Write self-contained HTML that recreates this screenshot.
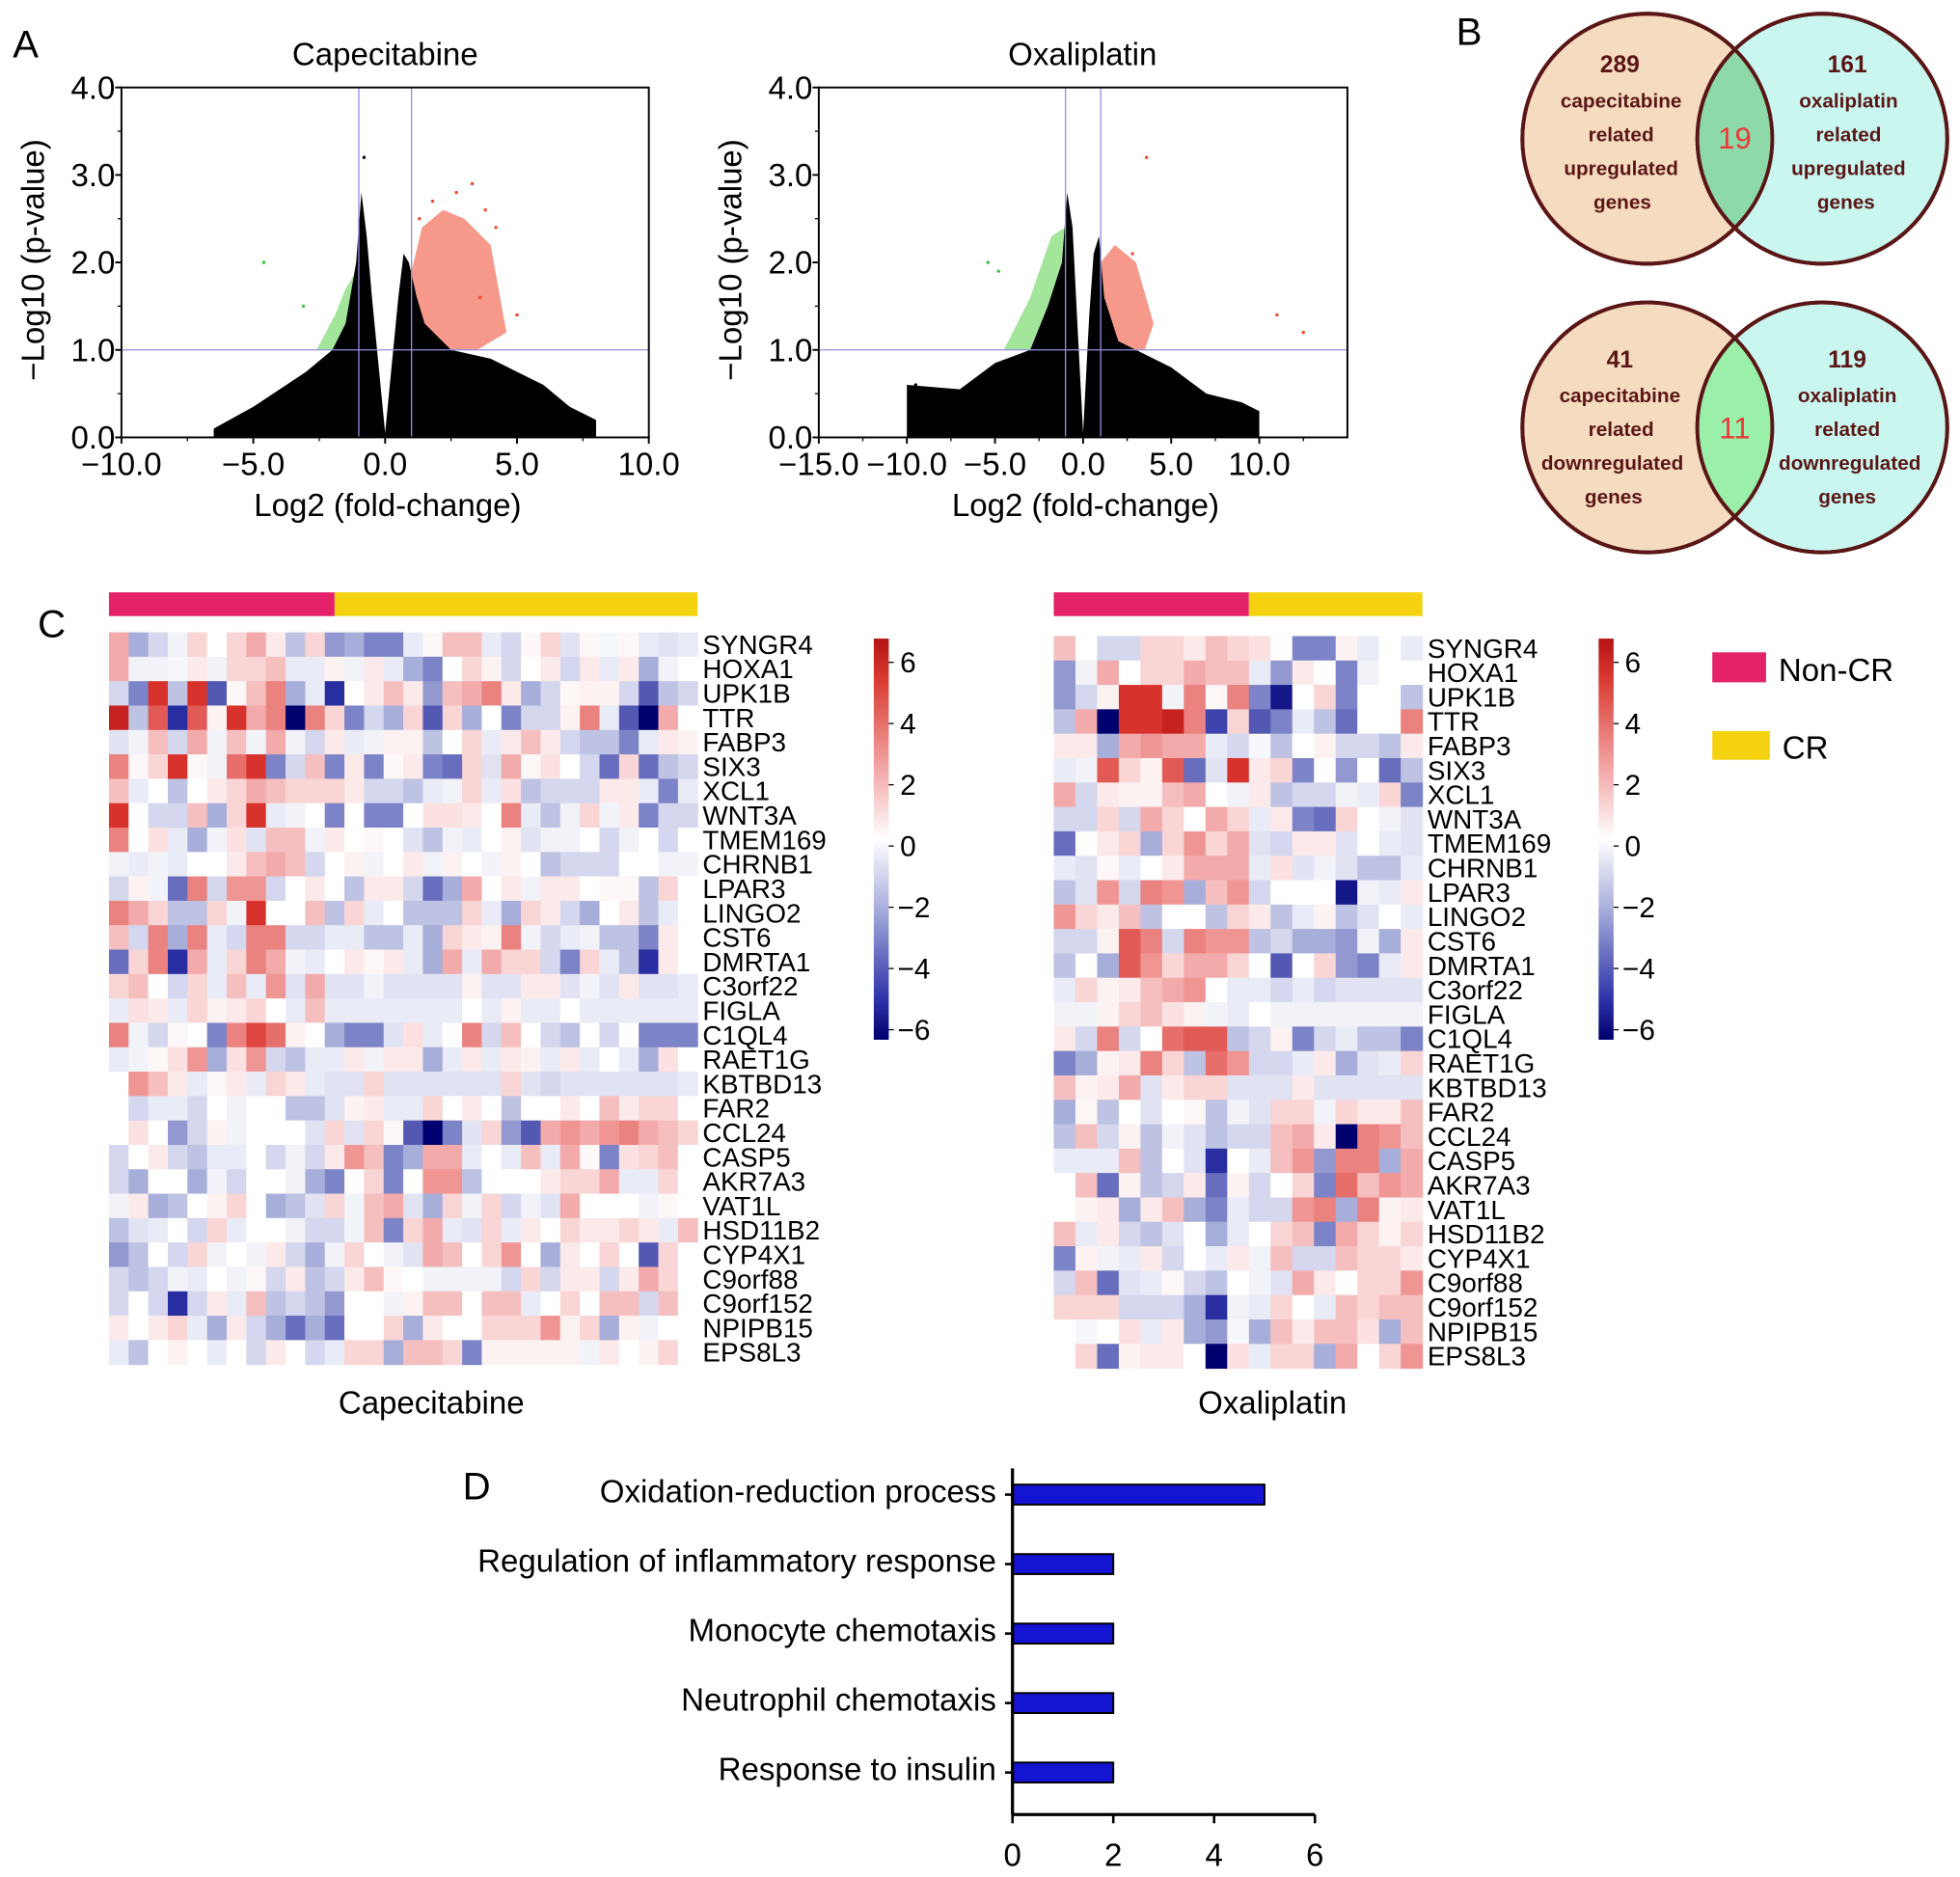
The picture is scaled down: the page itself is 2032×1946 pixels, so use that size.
<!DOCTYPE html>
<html><head><meta charset="utf-8"><style>
html,body{margin:0;padding:0;background:#fff}
svg{display:block;font-family:"Liberation Sans",Arial,sans-serif}
</style></head><body>
<svg id="fig" xmlns="http://www.w3.org/2000/svg" width="2032" height="1946" viewBox="0 0 1568 1502">
<rect x="0" y="0" width="1568" height="1502" fill="#fff"/>
<g id="gA"></g>
<g id="gB">
 <text x="10" y="46" font-size="31">A</text>
 <text x="1165" y="36" font-size="31">B</text>
 <circle cx="1318" cy="111" r="100" fill="#f5dcc0" stroke="#5a1616" stroke-width="3"/>
 <circle cx="1458" cy="111" r="100" fill="#c9f7f0" stroke="#5a1616" stroke-width="3"/>
 <path d="M1388,40 A100,100 0 0 1 1388,182 A100,100 0 0 1 1388,40 Z" fill="#8ed9a8"/>
 <circle cx="1318" cy="111" r="100" fill="none" stroke="#5a1616" stroke-width="3"/>
 <circle cx="1458" cy="111" r="100" fill="none" stroke="#5a1616" stroke-width="3"/>
 <circle cx="1318" cy="342" r="100" fill="#f5dcc0" stroke="#5a1616" stroke-width="3"/>
 <circle cx="1458" cy="342" r="100" fill="#c9f7f0" stroke="#5a1616" stroke-width="3"/>
 <path d="M1388,271 A100,100 0 0 1 1388,413 A100,100 0 0 1 1388,271 Z" fill="#9af0a8"/>
 <circle cx="1318" cy="342" r="100" fill="none" stroke="#5a1616" stroke-width="3"/>
 <circle cx="1458" cy="342" r="100" fill="none" stroke="#5a1616" stroke-width="3"/>
 <g font-weight="bold" fill="#5a1616" font-size="16" text-anchor="middle">
  <text x="1296" y="58" font-size="19">289</text><text x="1297" y="86">capecitabine</text><text x="1297" y="113">related</text><text x="1297" y="140">upregulated</text><text x="1298" y="167">genes</text>
  <text x="1478" y="58" font-size="19">161</text><text x="1479" y="86">oxaliplatin</text><text x="1479" y="113">related</text><text x="1479" y="140">upregulated</text><text x="1477" y="167">genes</text>
  <text x="1296" y="294" font-size="19">41</text><text x="1296" y="322">capecitabine</text><text x="1297" y="349">related</text><text x="1290" y="376">downregulated</text><text x="1291" y="403">genes</text>
  <text x="1478" y="294" font-size="19">119</text><text x="1478" y="322">oxaliplatin</text><text x="1478" y="349">related</text><text x="1480" y="376">downregulated</text><text x="1478" y="403">genes</text>
 </g>
 <text x="1388" y="119" font-size="24" fill="#e83a3a" text-anchor="middle">19</text>
 <text x="1388" y="351" font-size="24" fill="#e83a3a" text-anchor="middle">11</text>
</g>
<g id="gC">
 <text x="30" y="510" font-size="31">C</text>
 <rect x="1370" y="522" width="43" height="24" fill="#e4226a"/>
 <text x="1423" y="545" font-size="25.5">Non-CR</text>
 <rect x="1370" y="585" width="46" height="23" fill="#f5d20f"/>
 <text x="1426" y="607" font-size="25.5">CR</text>
 <text x="345" y="1131" font-size="25.5" text-anchor="middle">Capecitabine</text>
 <text x="1018" y="1131" font-size="25.5" text-anchor="middle">Oxaliplatin</text>
 <defs><linearGradient id="cbar" x1="0" y1="0" x2="0" y2="1">
  <stop offset="0" stop-color="#b41414"/><stop offset="0.1" stop-color="#d83a30"/><stop offset="0.33" stop-color="#f3a9a9"/><stop offset="0.5" stop-color="#ffffff"/><stop offset="0.67" stop-color="#aab0dc"/><stop offset="0.9" stop-color="#2c32a8"/><stop offset="1" stop-color="#00006e"/>
 </linearGradient></defs>
</g>
<g id="gD">
 <text x="370" y="1200" font-size="31">D</text>
</g>
</svg>
<script>
// ---------- Panel A data ----------
const capEnvX = [-6.5,-5,-4,-3,-2,-1.5,-1.1,-0.9,-0.7,-0.5,0,0.5,0.7,0.9,1.2,1.5,2.5,4,5,6,7,8];
const capEnvY = [0.1,0.35,0.55,0.75,1.0,1.3,2.0,2.8,2.3,1.6,0.05,1.6,2.1,2.0,1.6,1.3,1.0,0.9,0.75,0.6,0.35,0.2];
const capGreenX = [-2.6,-1.9,-1.5,-1.1,-1.0,-1.0,-1.3,-2.0];
const capGreenY = [1.0,1.4,1.7,1.9,1.6,1.0,1.0,1.0];
const capRedX = [1.0,1.0,1.4,2.2,3.0,4.0,4.6,3.5,2.0];
const capRedY = [1.0,1.9,2.4,2.6,2.5,2.2,1.2,1.0,1.0];
const capPtX = [3.3,3.8,4.2,2.7,3.6,1.8,5.0,-4.6,-3.1,-0.8,1.3];
const capPtY = [2.9,2.6,2.4,2.8,1.6,2.7,1.4,2.0,1.5,3.2,2.5];
const capPtC = ['r','r','r','r','r','r','r','g','g','k','r'];
const oxaEnvX = [-10,-7,-5,-3,-2,-1.2,-0.9,-0.6,-0.35,0,0.35,0.6,0.9,1.2,2,3,5,7,9,10];
const oxaEnvY = [0.6,0.55,0.85,1.0,1.5,2.0,2.8,2.4,1.4,0.05,1.4,2.1,2.3,1.6,1.1,1.0,0.8,0.5,0.4,0.3];
const oxaGreenX = [-4.5,-3.0,-1.8,-1.0,-1.0,-4.0];
const oxaGreenY = [1.0,1.6,2.3,2.4,1.0,1.0];
const oxaRedX = [1.0,1.0,1.8,3.0,4.0,3.5,1.5];
const oxaRedY = [1.0,2.0,2.2,2.0,1.3,1.0,1.0];
const oxaPtX = [3.6,-5.4,-4.8,11,12.5,-9.5,2.8];
const oxaPtY = [3.2,2.0,1.9,1.4,1.2,0.6,2.1];
const oxaPtC = ['r','g','g','r','r','k','r'];
const yTicks = [0,1,2,3,4];
const yTickLabels = ['0.0','1.0','2.0','3.0','4.0'];
const capXTicks = [-10,-5,0,5,10];
const capXTickLabels = ['\u221210.0','\u22125.0','0.0','5.0','10.0'];
const oxaXTicks = [-15,-10,-5,0,5,10];
const oxaXTickLabels = ['\u221215.0','\u221210.0','\u22125.0','0.0','5.0','10.0'];

// ---------- Panel C data ----------
const genes = ['SYNGR4','HOXA1','UPK1B','TTR','FABP3','SIX3','XCL1','WNT3A','TMEM169','CHRNB1','LPAR3','LINGO2','CST6','DMRTA1','C3orf22','FIGLA','C1QL4','RAET1G','KBTBD13','FAR2','CCL24','CASP5','AKR7A3','VAT1L','HSD11B2','CYP4X1','C9orf88','C9orf152','NPIPB15','EPS8L3'];
const capValues = [
[2,-2,-1,-0.3,1,0,1,2,0.5,-1.5,1,-2.5,-2,-3,-3,-0.5,0.2,1.5,1.5,-0.5,-1,0.2,1,-0.7,0.2,-0.2,0.2,-0.5,-0.7,-0.5],
[2,-0.3,-0.3,-0.2,0.5,-0.3,1,1,1.5,-0.5,-0.5,0.3,-0.3,0.5,-0.5,-2,-3,0,1,0.3,-1,0,0.5,-1,0.5,-0.5,0.5,-2,-0.3,0],
[-1,-3,5,-1.5,5,-4,0.2,1.5,3,-2,-0.5,-5,0,0.5,1.5,0.5,-2.5,1.5,2,3,0.5,-2,-1,0.2,0.3,0.3,-1,-4,-1.5,-1],
[5.5,-1.5,4,-5,4,0.3,5,2,3,-6,3,1,-3,-1,-2,1,-4,1,-2,0,-3,-1,-1,0.3,3,-0.5,-4,-6,2,0],
[-0.7,-0.3,1.5,-1,2,-0.3,1.5,-0.3,2,-0.3,-1,0.5,-0.5,-0.3,0.3,0.3,-1.5,0,1,-0.5,0.5,1.5,0.5,-1,-1.5,-1.5,-3,-0.5,0.5,0.3],
[3,0.2,1,5,0.2,-0.3,3.5,5,-3,-1,1.5,-3,0.5,-3,0.2,0.5,-3,-3.5,1,-0.7,2,0.2,0.7,0,-1,-3.5,1,-3.5,-1.5,-1],
[1.5,-0.5,0,-1.5,0,0.5,1,2,1.5,1,1,1,0.5,-1,-1,-1.5,-0.5,-0.3,1,-0.5,0.7,-1.5,-1,-1,-1,0.5,0.5,-0.5,-3,-0.5],
[5,0,-1,-1,1.5,-2,1,5,-0.5,-0.3,0,-3,0,-3,-3,0,0.7,0.7,0.5,0,3,-0.5,-1.5,-0.3,1,-0.3,0.5,-3,-1,-1],
[3,0,0.7,-0.5,-2,-0.3,0.7,-0.7,1.5,1.5,-0.3,0.5,0,0.2,0,-0.7,-1.5,-0.3,-0.5,0,0.3,-0.7,-0.3,-0.3,0,-1,-0.3,0,-1,0],
[-0.3,-0.5,-0.3,-0.5,0,0,0.5,1.5,2,1.5,-1,0,0.3,-0.3,0,0.5,-0.3,0.3,0,-0.3,0.3,0,-1.5,-1,-1,-1,0,0,-0.3,-0.3],
[-1,0.3,-0.3,-3.5,3,-1,2.5,2.5,-1,0,0.5,0,-1.5,0.5,0.5,-1,-3.5,-2,2,0,0.5,-0.3,0.5,0.5,0,0.2,0.2,-1.5,1,0],
[3,2,1,-1.5,-1.5,1,-0.3,5,0,0,1.5,-1.5,1,-0.5,0,-1.5,-1.5,-1.5,1,-0.5,-2,1,0.5,-1,-2,0,0.5,-1.5,-0.5,0],
[1.5,-1,3,-2,3,-0.5,-1,3,3,-1,-1,-0.5,-0.5,-1.5,-1.5,-0.5,-2,1,0.5,0.3,3,-0.3,-1,-0.5,-0.3,-1.5,-1.5,-3,0.5,0],
[-3.5,1,3,-5,2,-0.5,1,3,2,-0.3,-0.5,0,0.5,0.2,0.5,-0.5,-2,2,-0.5,2,1,1,-1,-3,1,-0.5,-1.5,-5,0.5,0],
[1,1.5,0,-1,1,-0.5,1.5,-0.5,2.5,-0.7,2,-0.7,-0.7,-0.3,-0.7,-0.7,-0.7,-0.7,0.3,-0.7,-0.7,0.5,0.5,-0.7,-0.3,-0.7,0.5,-0.7,-0.7,-0.5],
[-0.5,0.7,0.5,-0.5,1,0.3,0.5,1,0,-0.5,1.5,-0.5,-0.5,-0.5,-0.5,-0.5,-0.5,-0.5,0,-0.5,0.3,-0.5,-0.5,0,-0.5,-0.5,-0.5,-0.5,-0.5,-0.5],
[3,-0.3,-1,0.2,0,-3,3,4.5,3.5,0.3,0,-2,-3,-3,-0.7,0.7,-0.5,0,3,-1,1.5,0,-1,-1.5,0,-1,0,-3,-3,-3],
[-0.5,-0.3,0.2,0.7,2.5,-2,0.7,2.5,-1,-1.5,-0.5,-0.5,0.5,-0.3,0.5,0.5,-2,-0.5,0.5,-0.5,0.5,0.3,-0.5,0.5,-0.5,0,-0.5,-2,0.7,0],
[0,2.5,1.5,0.5,-0.5,0.2,0.5,-0.5,1,0.5,-0.5,-0.7,-0.7,1,-0.7,-0.7,-0.7,-0.7,-0.7,-0.7,1,-0.7,-1,-0.7,-0.7,-0.7,-0.7,-0.7,-0.7,-0.5],
[0,-1,-0.5,-0.5,-1,0,-0.3,0,0,-1.5,-1.5,-0.7,0.3,0.5,-0.5,-0.5,1,0,0.5,0,-1.5,0,0,0.5,0,1.5,0.5,1,1,0],
[0,0.7,0,-2.5,-1,0.3,-0.3,0,0,0,-0.7,1,-0.7,1,0.2,-4,-6,-3,-0.7,1,-2.5,-4,2,2.5,2,2.5,3,2,1.5,1],
[-1,0,0.5,-1,-1.5,-0.5,-0.5,0,-1,-0.3,-1,0.5,2.5,1.5,-3,-2,2,2,-0.5,0,-0.5,1.5,-0.5,2,0.2,-3,0.7,1,1.5,0],
[-1,-2,0,0,-2,-0.3,-1,0,0,-0.3,-2,-3,0,1,-3,0,2.5,2.5,-1.5,0,0,0,0.5,1,1,2,-0.5,-0.5,1,0],
[-0.3,0.5,-2,-1.5,0,0.3,1,0,-2,-1.5,-0.7,1,-0.3,1.5,2,-0.7,-2,1,-0.3,1,-1,-0.3,-0.7,2,0,0,0,-0.3,0.2,0],
[-1.5,-0.7,-0.5,0,-1,1,-0.5,0,0,-0.3,-1,-1,-0.3,1.5,-3,1,2,-0.5,-0.7,1,-0.5,0.5,0,1,0.5,0.5,1,0.5,-0.5,1.5],
[-2.5,-1.5,0,-1,1,-0.3,0,-0.3,0.5,-1,-2,-0.3,1,0,-0.3,-0.7,2,1.5,0,1,2.5,0,-2,0.5,0,1,0,-4,1,0],
[-1,-1.5,-1,-0.3,-0.5,0,-0.3,0.2,-1,0.5,-1.5,-1,0.5,1.5,0.2,0,-0.3,-0.3,-0.3,-0.3,-1,1,-1,0.5,0.5,-1,0.5,2,1,0],
[-1,0,-1,-5,-1,0.5,-0.5,1.5,-1.5,-1,-1.5,-2.5,0,0,-0.3,0.3,1.5,1.5,0,1.5,1.5,-0.5,0,1,0,1.5,1.5,-1,1.5,0],
[0.5,0,0.5,1,-0.5,-2,0.5,-1,-2,-3.5,-2,-3.5,0,0,1,-2,0.5,0,0,1,1,1,2.5,0.3,1,-2,0.3,-0.3,0,0],
[-0.5,-1.5,0,0.3,0,-0.5,0,-1,0.5,0,-1,-0.5,1,1,-2,1.5,1.5,1,-3,0.3,0.3,0.3,0.3,0.3,-0.3,0.5,0,0.3,1,0]
];
const oxaValues = [
[1.5,0,-1,-1,1,1,0.5,1.5,1,0.7,0,-3,-3,0.3,-0.5,0,-0.5],
[-2.5,-0.3,2,0,1,1,2,1.5,1.5,-0.5,-2.5,0.5,0,-3,-0.3,0,0],
[-2.5,-1,0.3,5,5,-0.3,3,0.2,3,-3,-5.5,0,1,-3,0,0,-1.5],
[-1.5,2,-6,5,5,5.5,3,-4.5,1,-4,-3,-0.5,-1.5,-3.5,0,0,3],
[0.5,0.5,-2,2,2.5,2,2,-0.5,-1,-0.2,-1.5,0,0.3,-1,-1,-1.5,0.5],
[-0.5,-0.3,4,1,0.3,4,-3.5,-0.7,5,0.5,1,-3,0,-2.5,0,-3.5,-1.5],
[2,-1,0.5,0.3,0.3,1.5,2,0,-0.3,0.5,-1.5,-1,-1,-0.3,-0.5,1,-3],
[-1,-1,1,-1,2,1,0,2,1,-0.5,0.5,-3,-3.5,1,0,-0.3,-0.7],
[-3.5,0,0.5,1,-2,1,2.5,1,2,-0.7,-1,0.5,0.5,-0.7,0,-0.5,-0.7],
[-0.5,-0.7,0.2,-0.5,0,0.5,2,2,2,-0.5,0.7,-0.7,-0.3,-0.7,-1.5,-1.5,-0.5],
[-1.5,-0.7,2.5,-1,3,2.5,-2,1.5,2.5,-1,0,0,0,-5.5,-0.3,-0.5,0.5],
[2.5,1,0.5,1.5,-1.5,0,0,-1.5,1,0.5,-1.5,-0.5,0.3,-1.5,-0.7,0,-0.5],
[-1,-1,0.3,4,3,-1,3,2.5,2.5,-1.5,-1,-2,-2,-2.5,-0.3,-2,0.5],
[-1.5,0,-2,4,2.5,1,2,2,1,0,-4,0,1,-2.5,-3,-0.5,0.5],
[-0.5,1,0.3,0.5,1.5,2,2.5,0,-0.5,-0.5,-1,-0.5,-1,-0.7,-0.7,-0.7,-0.7],
[-0.3,-0.3,0.3,1,1.5,0.7,0.3,-0.3,-0.5,0,-0.3,-0.3,-0.3,-0.3,-0.3,-0.3,-0.3],
[0.5,-1,3,-1,0,3.5,4,4,-1.5,-1,0.3,-3,-1,-0.5,-1.5,-1.5,-3],
[-3,-2,0.3,0.5,3,1,-1.5,3.5,2.5,-1,-1,-0.5,0.5,-2,-0.7,-0.5,1],
[1.5,0.3,0.5,2,-0.7,0.5,1,1,-0.7,-0.7,-0.7,0.5,-0.7,-0.7,-0.7,-0.7,-0.7],
[-2,0.2,-1.5,0,-0.7,0,0.2,-1.5,-0.3,-0.7,1,1,-0.3,1,0.5,0.5,1.5],
[-1.5,1.5,-1,0.3,-1.5,-0.3,-0.7,-1.5,-1,-1,1.5,2,0.5,-6,3,2.5,1.5],
[-0.5,-0.5,-0.5,1.5,-1.5,0,-0.7,-5,0,-0.5,1.5,2.5,-2.5,3,3,-2,2],
[0,1.5,-3.5,0.3,-1.5,-1,0.5,-3.5,0.3,-1,0,1,-3,3.5,1.5,2.5,2],
[0,0.3,0.5,-2,0.5,1.5,-2,-3,-0.5,-1,-1,2.5,3,-2,3,0.3,0.5],
[1.5,-0.5,0.5,-1,-1.5,-0.7,0,-2,-0.5,0,1,1.5,-3,2,1,0.3,1],
[-3,0.3,-0.3,-0.5,0.5,-1,0,-0.5,0.5,-0.3,1.5,-1,-1,1.5,1,1,0.5],
[-1,1.5,-3.5,-0.7,-0.5,0.2,-1,-1.5,0,-0.3,-0.7,2,0.5,0,1,1,2.5],
[1,1,1,-1,-1,-1,-2,-5,-0.3,-0.5,1,0,-0.5,1.5,1,1.5,1.5],
[0,-0.2,0,0.7,-0.5,0.5,-2,-2.5,-0.2,-2,1.5,0.5,1.5,1.5,0.7,-2,1.5],
[0,1,-3.5,0.3,0.5,0.5,0,-6,0.7,-0.5,1,1,-2,2,0,1,2.5]
];
const capGroupNonCR = 11.5;
const oxaGroupNonCR = 9;
const cbarTicks = [6,4,2,0,-2,-4,-6];
const cbarTickLabels = ['6','4','2','0','\u22122','\u22124','\u22126'];

// ---------- Panel D data ----------
const goTerms = ['Oxidation-reduction process','Regulation of inflammatory response','Monocyte chemotaxis','Neutrophil chemotaxis','Response to insulin'];
const goCounts = [5,2,2,2,2];
const goXTicks = [0,2,4,6];

const NS='http://www.w3.org/2000/svg';
function mk(parent, tag, attrs, text){
  const e=document.createElementNS(NS,tag);
  for(const k in attrs) e.setAttribute(k,attrs[k]);
  if(text!==undefined) e.textContent=text;
  parent.appendChild(e); return e;
}
const gA=document.getElementById('gA');
const gC=document.getElementById('gC');
const gD=document.getElementById('gD');
const FS=25.5;

function volcano(name, title, x0, x1, xmin, xmax, xTicks, xLabels, envX, envY, grX, grY, rdX, rdY, ptX, ptY, ptC, titleX, ylabX){
  const y0=350, y1=70;
  const sx=v=>x0+(v-xmin)/(xmax-xmin)*(x1-x0);
  const sy=v=>y0-(v/4)*(y0-y1);
  const g=mk(gA,'g',{});
  
  
  const gp=mk(g,'polygon',{points:grX.map((v,i)=>sx(v)+','+sy(grY[i])).join(' '),fill:'#5ad04a','fill-opacity':'0.55'});
  
  
  const rp=mk(g,'polygon',{points:rdX.map((v,i)=>sx(v)+','+sy(rdY[i])).join(' '),fill:'#f0462a','fill-opacity':'0.55'});
  
  
  let pts=envX.map((v,i)=>sx(v)+','+sy(envY[i]));
  pts.push(sx(envX[envX.length-1])+','+sy(0)); pts.push(sx(envX[0])+','+sy(0));
  const body=mk(g,'polygon',{points:pts.join(' '),fill:'#000'});
  
  
  ptX.forEach((v,i)=>{
    const c=mk(g,'circle',{cx:sx(v),cy:sy(ptY[i]),r:1.3,fill:ptC[i]==='r'?'#f0462a':ptC[i]==='g'?'#40c040':'#000'});
    
    
  });
  mk(g,'line',{x1:sx(-1),x2:sx(-1),y1:y1,y2:y0,stroke:'#9090e0','stroke-width':1});
  mk(g,'line',{x1:sx(1),x2:sx(1),y1:y1,y2:y0,stroke:'#9090e0','stroke-width':1});
  mk(g,'line',{x1:x0,x2:x1,y1:sy(1),y2:sy(1),stroke:'#9090e0','stroke-width':1});
  mk(g,'rect',{x:x0,y:y1,width:x1-x0,height:y0-y1,fill:'none',stroke:'#000','stroke-width':1.5});
  yTicks.forEach((t,i)=>{
    mk(g,'line',{x1:x0-5,x2:x0,y1:sy(t),y2:sy(t),stroke:'#000','stroke-width':1.5});
    if(i<yTicks.length-1) mk(g,'line',{x1:x0-3,x2:x0,y1:sy(t+0.5),y2:sy(t+0.5),stroke:'#000','stroke-width':1});
    const tl=mk(g,'text',{x:x0-5,y:sy(t)+9,'font-size':FS,'text-anchor':'end'},yTickLabels[i]);
    
    
  });
  xTicks.forEach((t,i)=>{
    mk(g,'line',{x1:sx(t),x2:sx(t),y1:y0,y2:y0+5,stroke:'#000','stroke-width':1.5});
    if(t+2.5<=xmax) mk(g,'line',{x1:sx(t+2.5),x2:sx(t+2.5),y1:y0,y2:y0+3,stroke:'#000','stroke-width':1});
    const tl=mk(g,'text',{x:sx(t),y:y0+30,'font-size':FS,'text-anchor':'middle'},xLabels[i]);
    
    
  });
  const tt=mk(g,'text',{x:titleX,y:52,'font-size':FS,'text-anchor':'middle'},title);
  
  
  const xt=mk(g,'text',{x:(x0+x1)/2+2,y:413,'font-size':FS,'text-anchor':'middle'},'Log2 (fold-change)');
  
  
  const yt=mk(g,'text',{x:0,y:0,'font-size':FS,'text-anchor':'middle',transform:`translate(${ylabX},208) rotate(-90)`},'\u2212Log10 (p-value)');
  
  
}
volcano('capecitabine','Capecitabine',97,519,-10,10,capXTicks,capXTickLabels,capEnvX,capEnvY,capGreenX,capGreenY,capRedX,capRedY,capPtX,capPtY,capPtC,308,35);
volcano('oxaliplatin','Oxaliplatin',655,1078,-15,15,oxaXTicks,oxaXTickLabels,oxaEnvX,oxaEnvY,oxaGreenX,oxaGreenY,oxaRedX,oxaRedY,oxaPtX,oxaPtY,oxaPtC,866,593);

function colorOf(v){
  v=Math.max(-6,Math.min(6,v));
  let r,g,b;
  if(v>=0){
    if(v<=2){const t=v/2; r=255+(243-255)*t; g=255+(170-255)*t; b=255+(170-255)*t;}
    else if(v<=5){const t=(v-2)/3; r=243+(216-243)*t; g=170+(50-170)*t; b=170+(44-170)*t;}
    else {const t=(v-5); r=216+(180-216)*t; g=50+(20-50)*t; b=44+(20-44)*t;}
  } else {
    const a=-v;
    if(a<=2){const t=a/2; r=255+(168-255)*t; g=255+(174-255)*t; b=255+(218-255)*t;}
    else if(a<=5){const t=(a-2)/3; r=168+(40-168)*t; g=174+(46-174)*t; b=218+(160-218)*t;}
    else {const t=(a-5); r=40+(0-40)*t; g=46+(0-46)*t; b=160+(110-160)*t;}
  }
  return `rgb(${Math.round(r)},${Math.round(g)},${Math.round(b)})`;
}
function heatmap(name, vals, x0, x1, yTop, nonCR, labX, cbX){
  const g=mk(gC,'g',{});
  
  
  const nc=vals[0].length, rh=19.53, cw=(x1-x0)/nc;
  const bar1=mk(g,'rect',{x:x0,y:474,width:cw*nonCR,height:19,fill:'#e4226a'});
  
  
  const bar2=mk(g,'rect',{x:x0+cw*nonCR,y:474,width:(x1-x0)-cw*nonCR,height:19,fill:'#f5d20f'});
  
  
  vals.forEach((row,r)=>{
    row.forEach((v,c)=>{
      const cell=mk(g,'rect',{x:x0+c*cw,y:yTop+r*rh,width:cw+0.4,height:rh+0.4,fill:colorOf(v)});
      
      
    });
    const t=mk(g,'text',{x:labX,y:yTop+r*rh+rh/2+7.5,'font-size':21.5},genes[r]);
    
    
  });
  const cb=mk(g,'rect',{x:cbX,y:511,width:12,height:321,fill:'url(#cbar)'});
  
  
  cbarTicks.forEach((t,i)=>{
    const y=677-t*24.5;
    mk(g,'line',{x1:cbX+12,x2:cbX+16,y1:y,y2:y,stroke:'#000'});
    const tl=mk(g,'text',{x:cbX+(t<0?19:21),y:y+8,'font-size':23},cbarTickLabels[i]);
    
    
  });
}
heatmap('capecitabine',capValues,87,558,506,capGroupNonCR,562,699);
heatmap('oxaliplatin',oxaValues,843,1138,509,oxaGroupNonCR,1142,1279);

(function(){
  const x0=810, x6=1052, yTop=1175, yBot=1452;
  const sx=v=>x0+v/6*(x6-x0);
  const rowY=i=>1196+i*55.6;
  goTerms.forEach((t,i)=>{
    const b=mk(gD,'rect',{x:x0,y:rowY(i)-8,width:sx(goCounts[i])-x0,height:16,fill:'#1414d2',stroke:'#000','stroke-width':1.5});
    
    
    mk(gD,'line',{x1:x0-6,x2:x0,y1:rowY(i),y2:rowY(i),stroke:'#000','stroke-width':2});
    const l=mk(gD,'text',{x:797,y:rowY(i)+6,'font-size':FS,'text-anchor':'end'},t);
    
    
  });
  mk(gD,'line',{x1:x0,x2:x0,y1:yTop,y2:yBot,stroke:'#000','stroke-width':2.5});
  mk(gD,'line',{x1:x0,x2:x6,y1:yBot,y2:yBot,stroke:'#000','stroke-width':2.5});
  goXTicks.forEach(t=>{
    mk(gD,'line',{x1:sx(t),x2:sx(t),y1:yBot,y2:yBot+7,stroke:'#000','stroke-width':2});
    const tl=mk(gD,'text',{x:sx(t),y:1493,'font-size':FS,'text-anchor':'middle'},String(t));
    
    
  });
})();
</script>
</body></html>
